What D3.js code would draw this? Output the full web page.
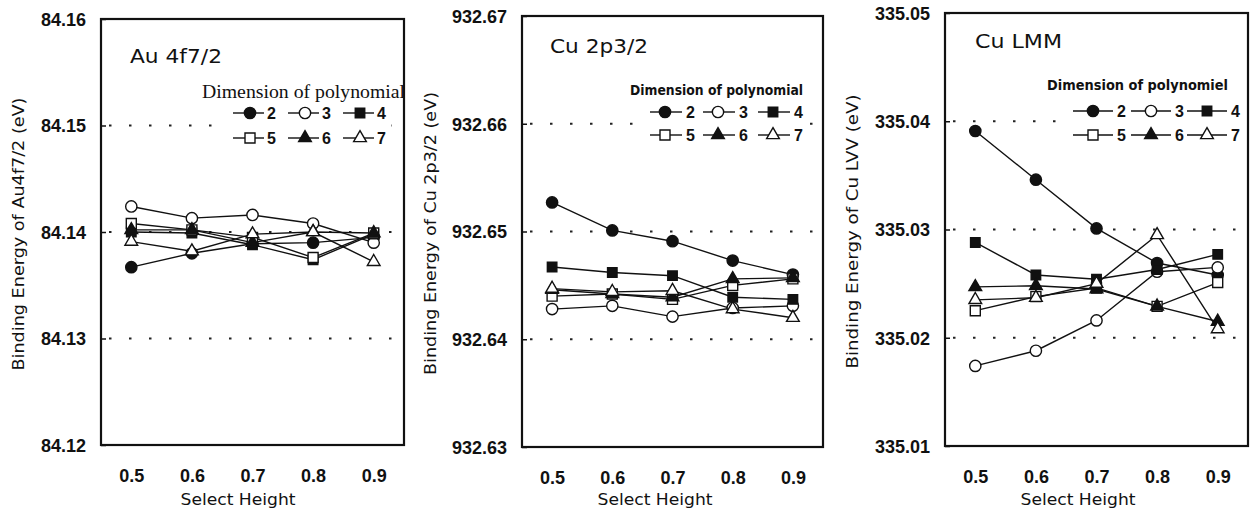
<!DOCTYPE html>
<html>
<head>
<meta charset="utf-8">
<script src="https://cdn.jsdelivr.net/npm/d3@7"></script>
<style>
  body { margin: 0; background: #fff; }
  svg { display: block; }
</style>
</head>
<body>
<div id="chart"></div>
<script>
// x values shared by all three panels
const selectHeights = [0.5, 0.6, 0.7, 0.8, 0.9];
const dimensions = [2, 3, 4, 5, 6, 7];

// one row per dimension of polynomial (2..7), values at 0.5..0.9
const auValues = [
  [84.1367, 84.1380, 84.1389, 84.1390, 84.1395],
  [84.1424, 84.1413, 84.1416, 84.1408, 84.1390],
  [84.1400, 84.1399, 84.1388, 84.1374, 84.1398],
  [84.1408, 84.1402, 84.1395, 84.1376, 84.1399],
  [84.1402, 84.1402, 84.1390, 84.1400, 84.1399],
  [84.1391, 84.1382, 84.1398, 84.1400, 84.1372]
];
const cu2pValues = [
  [932.6527, 932.6501, 932.6491, 932.6473, 932.6460],
  [932.6428, 932.6431, 932.6421, 932.6429, 932.6431],
  [932.6467, 932.6462, 932.6459, 932.6439, 932.6437],
  [932.6440, 932.6442, 932.6437, 932.6450, 932.6456],
  [932.6446, 932.6442, 932.6439, 932.6456, 932.6457],
  [932.6447, 932.6444, 932.6445, 932.6428, 932.6420]
];
const cuLmmValues = [
  [335.0391, 335.0346, 335.0301, 335.0269, 335.0258],
  [335.0174, 335.0188, 335.0216, 335.0261, 335.0265],
  [335.0288, 335.0258, 335.0254, 335.0263, 335.0277],
  [335.0225, 335.0238, 335.0246, 335.0229, 335.0251],
  [335.0247, 335.0248, 335.0245, 335.0229, 335.0215],
  [335.0235, 335.0237, 335.0250, 335.0295, 335.0208]
];

// tick labels
const auTicks = [84.12, 84.13, 84.14, 84.15, 84.16];
const cu2pTicks = [932.63, 932.64, 932.65, 932.66, 932.67];
const cuLmmTicks = [335.01, 335.02, 335.03, 335.04, 335.05];
const xTicks = [0.5, 0.6, 0.7, 0.8, 0.9];

const width = 1258;
const height = 515;

const svg = d3
  .select("#chart")
  .append("svg")
  .attr("width", width)
  .attr("height", height);

// marker style per dimension: symbol + filled or not
const markerTypes = [
  { symbol: d3.symbolCircle, size: 100, fill: "#111" },
  { symbol: d3.symbolCircle, size: 100, fill: "#fff" },
  { symbol: d3.symbolSquare, size: 90, fill: "#111" },
  { symbol: d3.symbolSquare, size: 100, fill: "#fff" },
  { symbol: d3.symbolTriangle, size: 70, fill: "#111" },
  { symbol: d3.symbolTriangle, size: 70, fill: "#fff" }
];

const panels = [
  {
    title: "Au 4f7/2", titleX: 130, titleY: 63, titleLen: 92,
    yLabel: "Binding Energy of Au4f7/2 (eV)", yLabelX: 18, yLabelLen: 273,
    values: auValues, ticks: auTicks,
    box: { left: 101, right: 404, top: 19, bottom: 445 },
    xLabelX: 238,
    legend: {
      title: "Dimension of polynomial", serif: true, titleX: 202, titleY: 98, titleLen: 203,
      rows: [113, 138], markers: [250, 305, 360], lineL: 17, lineR: 14, labelGap: 17
    }
  },
  {
    title: "Cu 2p3/2", titleX: 550, titleY: 53, titleLen: 98,
    yLabel: "Binding Energy of Cu 2p3/2 (eV)", yLabelX: 430, yLabelLen: 283,
    values: cu2pValues, ticks: cu2pTicks,
    box: { left: 522, right: 823, top: 16, bottom: 447 },
    xLabelX: 655,
    legend: {
      title: "Dimension of polynomial", serif: false, titleX: 630, titleY: 95, titleLen: 173,
      rows: [112, 135], markers: [665, 718, 773], lineL: 15, lineR: 17, labelGap: 21
    }
  },
  {
    title: "Cu LMM", titleX: 975, titleY: 48, titleLen: 87,
    yLabel: "Binding Energy of Cu LVV (eV)", yLabelX: 852, yLabelLen: 274,
    values: cuLmmValues, ticks: cuLmmTicks,
    box: { left: 945, right: 1248, top: 13, bottom: 446 },
    xLabelX: 1078,
    legend: {
      title: "Dimension of polynomiel", serif: false, titleX: 1047, titleY: 90, titleLen: 181,
      rows: [111, 135], markers: [1093, 1151, 1207], lineL: 20, lineR: 20, labelGap: 24
    }
  }
];

panels.forEach((p) => drawPanel(p));

function drawPanel(p) {
  const b = p.box;
  const g = svg.append("g");

  const xScale = d3.scaleLinear().domain([0.45, 0.95]).range([b.left, b.right]);
  const yScale = d3
    .scaleLinear()
    .domain([p.ticks[0], p.ticks[p.ticks.length - 1]])
    .range([b.bottom, b.top]);

  // dotted grid lines at inner ticks
  g.selectAll(".grid")
    .data(p.ticks.slice(1, -1))
    .enter()
    .append("line")
    .attr("x1", b.left + 8)
    .attr("x2", b.right)
    .attr("y1", (d) => yScale(d))
    .attr("y2", (d) => yScale(d))
    .attr("stroke", "#222")
    .attr("stroke-width", 2)
    .attr("stroke-dasharray", "2.5,17.5");

  // y axis: inward ticks, labels outside
  const yAxis = d3
    .axisRight(yScale)
    .tickValues(p.ticks)
    .tickSize(5)
    .tickFormat(d3.format(".2f"));
  const yg = g.append("g")
    .attr("transform", `translate(${b.left}, 0)`)
    .call(yAxis);
  yg.select(".domain").remove();
  yg.selectAll("line").attr("stroke", "#111").attr("stroke-width", 1.5);
  yg.selectAll("text")
    .attr("x", -15)
    .attr("dy", "0.36em")
    .attr("text-anchor", "end")
    .style("font-family", "'Liberation Sans', Arial, sans-serif")
    .style("font-weight", "bold")
    .style("font-size", "18px")
    .attr("fill", "#111");

  // x axis labels below box
  const xAxis = d3
    .axisBottom(xScale)
    .tickValues(xTicks)
    .tickSize(0)
    .tickFormat(d3.format(".1f"));
  const xg = g.append("g")
    .attr("transform", `translate(0, ${b.bottom})`)
    .call(xAxis);
  xg.select(".domain").remove();
  xg.selectAll("text")
    .attr("y", 37)
    .attr("dy", 0)
    .style("font-family", "'Liberation Sans', Arial, sans-serif")
    .style("font-weight", "bold")
    .style("font-size", "18px")
    .attr("fill", "#111");

  // axis titles
  g.append("text")
    .attr("x", p.xLabelX)
    .attr("y", 505)
    .attr("text-anchor", "middle")
    .attr("textLength", 115)
    .attr("lengthAdjust", "spacingAndGlyphs")
    .style("font-family", "'DejaVu Sans', sans-serif")
    .style("font-size", "16px")
    .attr("fill", "#111")
    .text("Select Height");

  const yMid = (b.top + b.bottom) / 2 + 2;
  g.append("text")
    .attr("transform", `translate(${p.yLabelX}, ${yMid}) rotate(-90)`)
    .attr("dy", "0.35em")
    .attr("text-anchor", "middle")
    .attr("textLength", p.yLabelLen)
    .attr("lengthAdjust", "spacingAndGlyphs")
    .style("font-family", "'DejaVu Sans', sans-serif")
    .style("font-size", "16px")
    .attr("fill", "#111")
    .text(p.yLabel);

  // panel title
  g.append("text")
    .attr("x", p.titleX)
    .attr("y", p.titleY)
    .attr("textLength", p.titleLen)
    .attr("lengthAdjust", "spacingAndGlyphs")
    .style("font-family", "'DejaVu Sans', sans-serif")
    .style("font-size", "19px")
    .attr("fill", "#111")
    .text(p.title);

  // legend
  drawLegend(g, p.legend);

  // series lines
  const line = d3
    .line()
    .x((d, i) => xScale(selectHeights[i]))
    .y((d) => yScale(d));

  g.selectAll(".series")
    .data(p.values)
    .enter()
    .append("path")
    .attr("d", (d) => line(d))
    .attr("fill", "none")
    .attr("stroke", "#111")
    .attr("stroke-width", 1.4);

  // markers
  p.values.forEach((vals, si) => {
    const m = markerTypes[si];
    g.selectAll(null)
      .data(vals)
      .enter()
      .append("path")
      .attr("d", d3.symbol().type(m.symbol).size(m.size))
      .attr("transform", (d, i) => `translate(${xScale(selectHeights[i])}, ${yScale(d)})`)
      .attr("fill", m.fill)
      .attr("stroke", "#111")
      .attr("stroke-width", 1.4);
  });

  // frame
  g.append("rect")
    .attr("x", b.left)
    .attr("y", b.top)
    .attr("width", b.right - b.left)
    .attr("height", b.bottom - b.top)
    .attr("fill", "none")
    .attr("stroke", "#111")
    .attr("stroke-width", 2.2);
}

function drawLegend(g, lg) {
  const lastX = lg.markers[lg.markers.length - 1];
  g.append("rect")
    .attr("x", lg.markers[0] - lg.lineL - 4)
    .attr("y", lg.rows[0] - 12)
    .attr("width", lastX + lg.labelGap + 14 - (lg.markers[0] - lg.lineL - 4))
    .attr("height", lg.rows[1] - lg.rows[0] + 24)
    .attr("fill", "#fff");

  g.append("text")
    .attr("x", lg.titleX)
    .attr("y", lg.titleY)
    .attr("textLength", lg.titleLen)
    .attr("lengthAdjust", "spacingAndGlyphs")
    .style("font-family", lg.serif ? "'Liberation Serif', serif" : "'DejaVu Sans', sans-serif")
    .style("font-weight", lg.serif ? "normal" : "bold")
    .style("font-size", lg.serif ? "19px" : "14px")
    .attr("fill", "#111")
    .text(lg.title);

  dimensions.forEach((dim, i) => {
    const row = Math.floor(i / 3);
    const cx = lg.markers[i % 3];
    const cy = lg.rows[row];
    const m = markerTypes[i];
    g.append("line")
      .attr("x1", cx - lg.lineL)
      .attr("x2", cx + lg.lineR)
      .attr("y1", cy)
      .attr("y2", cy)
      .attr("stroke", "#111")
      .attr("stroke-width", 1.4);
    g.append("path")
      .attr("d", d3.symbol().type(m.symbol).size(m.size))
      .attr("transform", `translate(${cx}, ${cy})`)
      .attr("fill", m.fill)
      .attr("stroke", "#111")
      .attr("stroke-width", 1.4);
    g.append("text")
      .attr("x", cx + lg.labelGap)
      .attr("y", cy)
      .attr("dy", "0.36em")
      .style("font-family", "'Liberation Sans Narrow', 'Liberation Sans', sans-serif")
      .style("font-weight", "bold")
      .style("font-size", "16px")
      .attr("fill", "#111")
      .text(dim);
  });
}
</script>
</body>
</html>
